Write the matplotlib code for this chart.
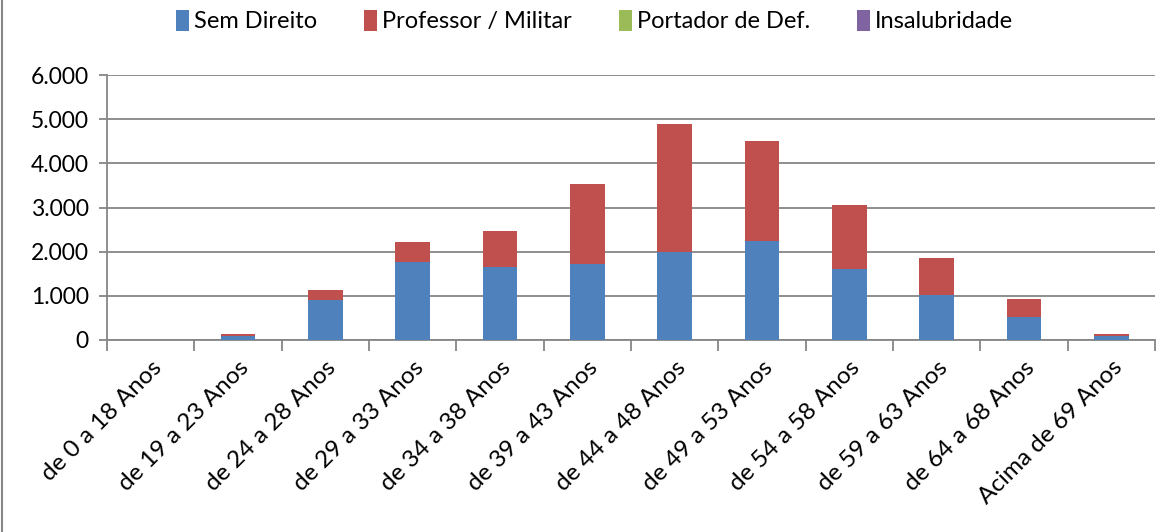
import matplotlib
matplotlib.use('Agg')
import matplotlib.pyplot as plt
from matplotlib.ticker import FuncFormatter, FixedLocator
import numpy as np

categories = ['de 0 a 18 Anos', 'de 19 a 23 Anos', 'de 24 a 28 Anos', 'de 29 a 33 Anos',
              'de 34 a 38 Anos', 'de 39 a 43 Anos', 'de 44 a 48 Anos', 'de 49 a 53 Anos',
              'de 54 a 58 Anos', 'de 59 a 63 Anos', 'de 64 a 68 Anos', 'Acima de 69 Anos']
sem_direito = [0, 83, 909, 1765, 1644, 1720, 2000, 2235, 1606, 1023, 530, 83]
professor = [0, 53, 212, 455, 833, 1810, 2886, 2273, 1455, 833, 402, 53]
portador = [0] * 12
insalubridade = [0] * 12

series = [('Sem Direito', sem_direito, '#4F81BD'),
          ('Professor / Militar', professor, '#C0504D'),
          ('Portador de Def.', portador, '#9BBB59'),
          ('Insalubridade', insalubridade, '#8064A2')]

plt.rcParams['font.family'] = ['Lato', 'DejaVu Sans']

fig = plt.figure(figsize=(11.64, 5.32), dpi=100)
ax = fig.add_axes([107 / 1164, 1 - 340 / 532, 1048 / 1164, 265 / 532])

x = np.arange(len(categories))
bottom = np.zeros(len(categories))
handles = []
for name, vals, color in series:
    vals = np.array(vals, dtype=float)
    b = ax.bar(x, vals, width=0.4, bottom=bottom, color=color, label=name, zorder=3)
    handles.append(b)
    bottom += vals

ax.set_xlim(-0.5, len(categories) - 0.5)
ax.set_ylim(0, 6000)
ax.set_yticks(np.arange(0, 6001, 1000))
ax.yaxis.set_major_formatter(FuncFormatter(lambda v, p: f'{int(v):,}'.replace(',', '.')))
ax.grid(axis='y', color='#868686', linewidth=1.3, zorder=0)

ax.set_xticks(x)
ax.set_xticklabels(categories, rotation=45, ha='right', rotation_mode='anchor', fontsize=17.5)
ax.tick_params(axis='x', which='major', length=0, pad=12)
ax.xaxis.set_minor_locator(FixedLocator(np.arange(-0.5, len(categories), 1)))
ax.tick_params(axis='x', which='minor', length=8, color='#868686', width=1.3)
ax.tick_params(axis='y', length=6, color='#868686', width=1.3, labelsize=16.5, pad=7)

for side in ['top', 'right']:
    ax.spines[side].set_visible(False)
for side in ['left', 'bottom']:
    ax.spines[side].set_color('#868686')
    ax.spines[side].set_linewidth(1.3)

fig.legend(handles=handles, loc='center', bbox_to_anchor=(0.511, 1 - 21 / 532), ncol=4,
           frameon=False, fontsize=17, handlelength=0.55, handleheight=1.0,
           handletextpad=0.2, columnspacing=2.0)

# chart frame edge on the left
fig.add_artist(plt.Line2D([2 / 1164, 2 / 1164], [0, 1], color='#868686', linewidth=1.5))

fig.savefig('out.png', dpi=100)
